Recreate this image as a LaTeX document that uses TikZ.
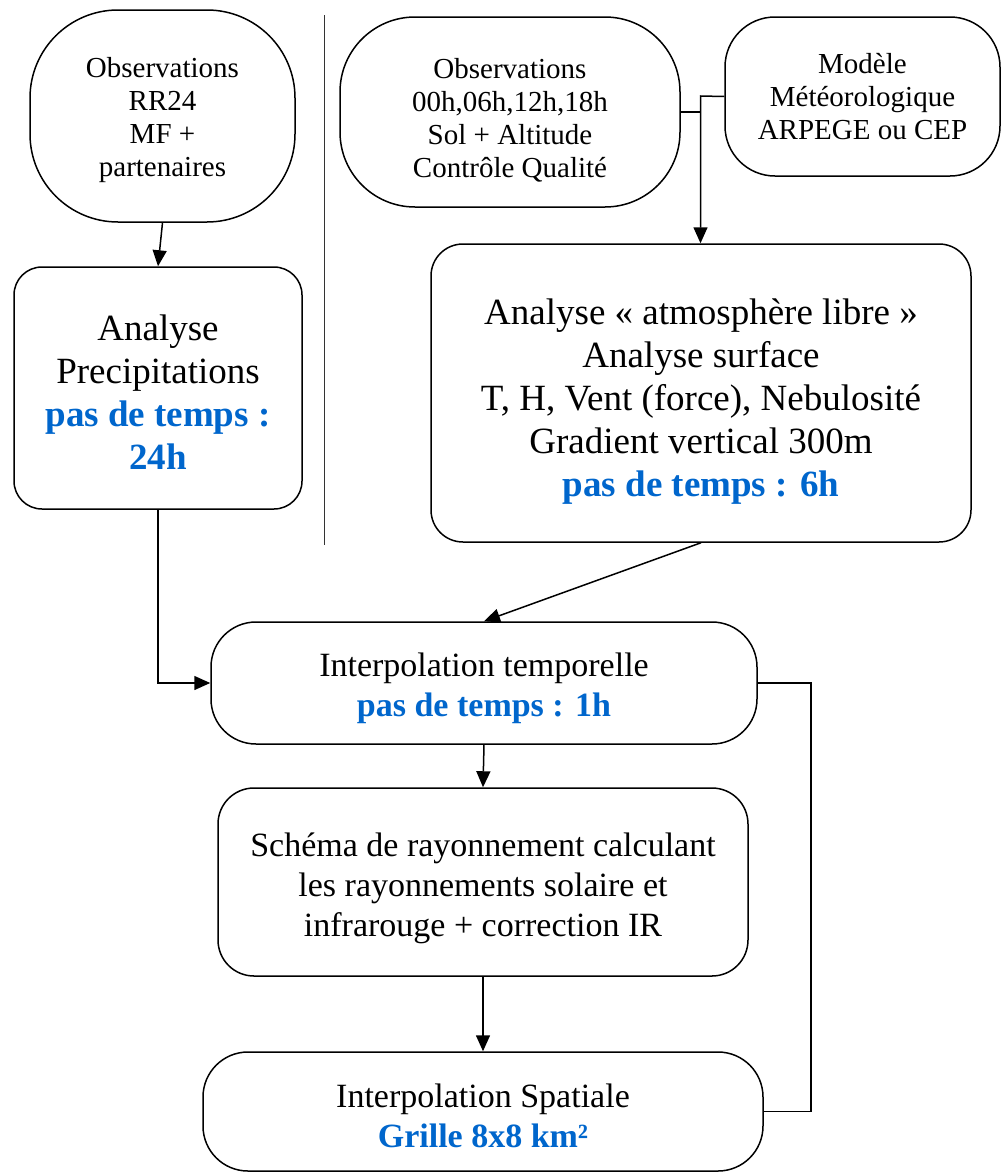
\documentclass[tikz,border=0pt]{standalone}
\usepackage{fontspec}
\setmainfont{Liberation Serif}
\usetikzlibrary{arrows.meta}
\definecolor{hiblue}{HTML}{0066CC}
\newcommand{\fsA}{\fontsize{29}{33}\selectfont}
\newcommand{\fsB}{\fontsize{34}{40}\selectfont}
\newcommand{\fsC}{\fontsize{37}{43}\selectfont}
\newcommand{\hl}[1]{{\bfseries\color{hiblue}#1}}
\tikzset{
  boxstyle/.style={draw=black, line width=1.5pt, rectangle, inner sep=0pt},
  txt/.style={align=center, inner sep=0pt},
  conn/.style={line width=1.5pt, draw=black},
  arr/.style={conn, -{Triangle[length=16pt,width=14pt]}},
}
\begin{document}
\begin{tikzpicture}[x=1pt,y=-1pt]
\useasboundingbox (0,0) rectangle (1002,1173);
% separator
\draw[line width=1pt, black!80] (324,15) -- (324,545);
% boxes
\node[boxstyle, rounded corners=88pt, minimum width=265pt, minimum height=212pt,
  label={[txt, font=\fsA, yshift=-4pt]center:{Observations\\RR24\\MF +\\partenaires}}] (rr) at (162.5,116) {};
\node[boxstyle, rounded corners=28pt, minimum width=288pt, minimum height=242pt,
  label={[txt, font=\fsC, yshift=-4pt]center:{Analyse\\Precipitations\\\hl{pas de temps :}\\\hl{24h}}}] (prec) at (158,388) {};
\node[boxstyle, rounded corners=75pt, minimum width=340pt, minimum height=190pt,
  label={[txt, font=\fsA, yshift=-8pt]center:{Observations\\00h,06h,12h,18h\\Sol + Altitude\\Contrôle Qualité}}] (obs) at (510,112) {};
\node[boxstyle, rounded corners=50pt, minimum width=275pt, minimum height=159pt,
  label={[txt, font=\fsA]center:{Modèle\\Météorologique\\ARPEGE ou CEP}}] (mod) at (862.5,96.5) {};
\node[boxstyle, rounded corners=32pt, minimum width=540pt, minimum height=298pt,
  label={[txt, font=\fsC, yshift=-9pt]center:{Analyse « atmosphère libre »\\Analyse surface\\T, H, Vent (force), Nebulosité\\Gradient vertical 300m\\\hl{pas de temps : 6h}}}] (atm) at (701,393) {};
\node[boxstyle, rounded corners=45pt, minimum width=546pt, minimum height=122pt,
  label={[txt, font=\fsB, yshift=-5pt]center:{Interpolation temporelle\\\hl{pas de temps : 1h}}}] (itemp) at (484,683) {};
\node[boxstyle, rounded corners=36pt, minimum width=530pt, minimum height=188pt,
  label={[txt, font=\fsB, yshift=-6pt]center:{Schéma de rayonnement calculant\\les rayonnements solaire et\\infrarouge + correction IR}}] (sch) at (483,882) {};
\node[boxstyle, rounded corners=45pt, minimum width=560pt, minimum height=119pt,
  label={[txt, font=\fsB, yshift=-4pt]center:{Interpolation Spatiale\\\hl{Grille 8x8 km²}}}] (spat) at (483,1111.5) {};
% connectors
\coordinate (jn) at (700.5,96);
\coordinate (rt) at (811,900);
\draw[arr] (rr.south) -- (prec.north);
\draw[arr] (prec.south) |- (itemp.west);
\draw[conn] (obs.east) -- (obs.east -| jn);
\draw[arr] (mod.west) -- (jn) -- (jn |- atm.north);
\draw[arr] (atm.south) -- (itemp.north);
\draw[arr] (itemp.south) -- (sch.north);
\draw[arr] (sch.south) -- (spat.north);
\draw[conn] (itemp.east) -| (rt) |- (spat.east);
\end{tikzpicture}
\end{document}
